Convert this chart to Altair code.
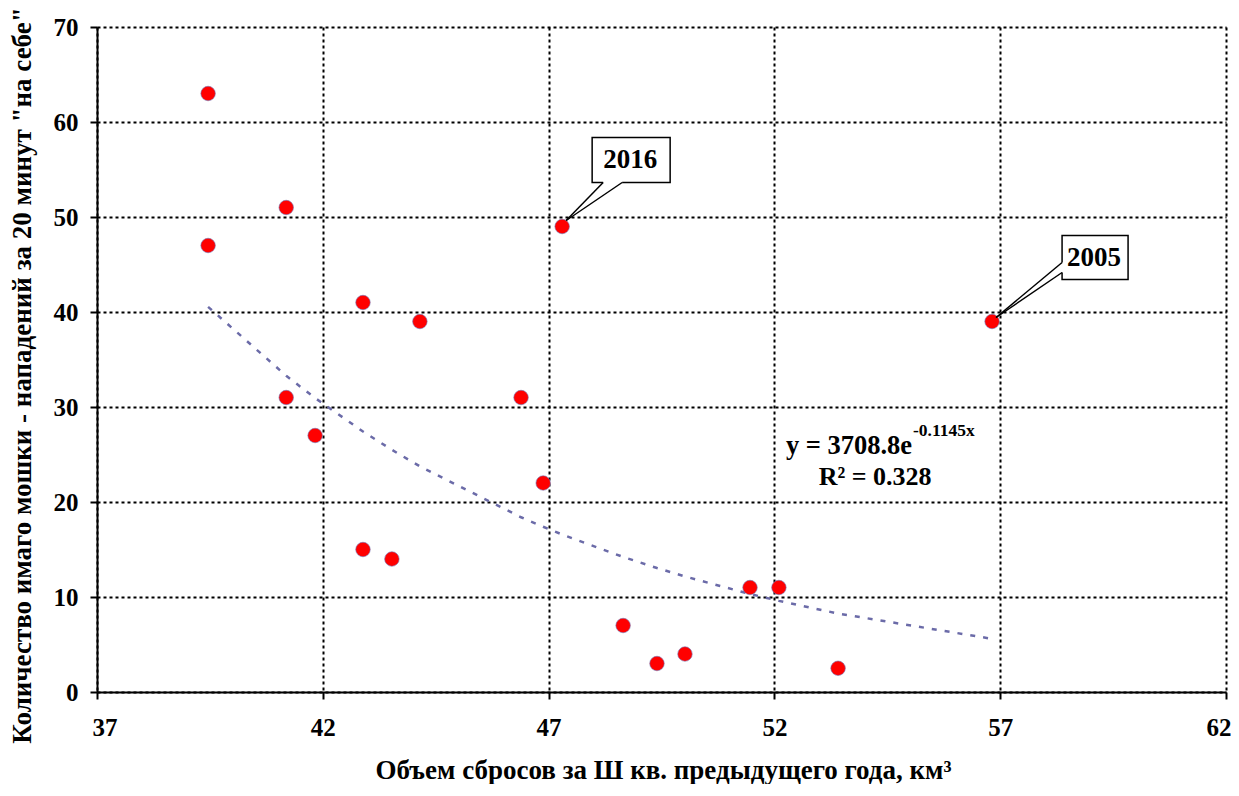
import altair as alt
import pandas as pd

# ---- data ----
x_vals = [39.46, 39.46, 41.19, 41.19, 41.83, 42.89, 42.89, 43.53, 44.15, 46.39,
          46.88, 47.30, 48.65, 49.40, 50.02, 51.46, 52.10, 53.41, 56.82]
y_vals = [63, 47, 51, 31, 27, 41, 15, 14, 39, 31,
          22, 49, 7, 3, 4, 11, 11, 2.5, 39]
year_labels = ["", "", "", "", "", "", "", "", "", "",
               "", "2016", "", "", "", "", "", "", "2005"]

x_ticks = [37, 42, 47, 52, 57, 62]
y_ticks = [0, 10, 20, 30, 40, 50, 60, 70]

eq_main = "y = 3708.8e"
eq_exp = "-0.1145x"
eq_r2 = "R² = 0.328"

x_title = "Объем сбросов за Ш кв. предыдущего года, км³"
y_title = 'Количество имаго мошки - нападений за 20 минут "на себе"'

FONT = "Liberation Serif"

df = pd.DataFrame({"x": x_vals, "y": y_vals, "year": year_labels})
one = pd.DataFrame({"k": [0]})

xscale = alt.Scale(domain=[37, 62], nice=False, zero=False)
yscale = alt.Scale(domain=[0, 70], nice=False, zero=True)

xaxis = alt.Axis(values=x_ticks, title=x_title, grid=True, format="d",
                 titleX=566, titleY=86, titleAlign="center", titleBaseline="alphabetic",
                 titleAnchor="middle", labelPadding=16,
                 labelFlush=True, labelFlushOffset=5)
yaxis = alt.Axis(values=y_ticks, title=y_title, grid=True, format="d",
                 titleX=-75, titleY=348, titleAlign="center", titleBaseline="middle",
                 titleAngle=270, labelPadding=12)

base = alt.Chart(df)

points = base.mark_point(filled=True, shape="circle", size=210, color="#FF0000",
                         stroke="#7070B0", strokeWidth=0.6, opacity=1).encode(
    x=alt.X("x:Q", scale=xscale, axis=xaxis),
    y=alt.Y("y:Q", scale=yscale, axis=yaxis),
)

# exponential trend (least squares on log(y)), computed from the data
trend = base.transform_calculate(
    ly="log(datum.y)", xly="datum.x*log(datum.y)", xx="datum.x*datum.x"
).transform_joinaggregate(
    mx="mean(x)", mly="mean(ly)", mxly="mean(xly)", mxx="mean(xx)"
).transform_calculate(
    b="(datum.mxly - datum.mx*datum.mly)/(datum.mxx - datum.mx*datum.mx)"
).transform_calculate(
    a="datum.mly - datum.b*datum.mx"
).transform_calculate(
    fit="exp(datum.a + datum.b*datum.x)"
).mark_line(color="#6B6BA8", strokeWidth=2.5, strokeDash=[5, 8]).encode(
    x=alt.X("x:Q", scale=xscale),
    y=alt.Y("fit:Q", scale=yscale),
    order="x:Q",
)


def callout(year, box, base_pts, tip, text_pos):
    d = base.transform_filter(alt.datum.year == year)
    enc = dict(x=alt.X("x:Q", scale=xscale), y=alt.Y("y:Q", scale=yscale))
    enc2 = dict(x2="x:Q", y2="y:Q")
    rect = d.mark_rect(fill="white", stroke="black", strokeWidth=1.5,
                       xOffset=box[0], x2Offset=box[1], yOffset=box[2], y2Offset=box[3]
                       ).encode(**enc, **enc2)
    cover = d.mark_rule(color="white", strokeWidth=3,
                        xOffset=base_pts[0][0], yOffset=base_pts[0][1],
                        x2Offset=base_pts[1][0], y2Offset=base_pts[1][1]
                        ).encode(**enc, **enc2)
    l1 = d.mark_rule(color="black", strokeWidth=1.5,
                     xOffset=tip[0], yOffset=tip[1],
                     x2Offset=base_pts[0][0], y2Offset=base_pts[0][1]
                     ).encode(**enc, **enc2)
    l2 = d.mark_rule(color="black", strokeWidth=1.5,
                     xOffset=tip[0], yOffset=tip[1],
                     x2Offset=base_pts[1][0], y2Offset=base_pts[1][1]
                     ).encode(**enc, **enc2)
    txt = d.mark_text(font=FONT, fontWeight="bold", fontSize=27, color="black",
                      align="center", baseline="alphabetic",
                      dx=text_pos[0], dy=text_pos[1]).encode(**enc, text="year:N")
    return [rect, cover, l1, l2, txt]


c2016 = callout("2016", (30, 108, -89, -44), [(41, -44), (60, -44)], (4, -6), (68, -59))
c2005 = callout("2005", (70, 136, -86, -42), [(70, -59), (70, -49)], (4, -4), (102, -56))

eq1 = alt.Chart(one).mark_text(font=FONT, fontWeight="bold", fontSize=26.5, color="black",
                               align="right", baseline="alphabetic").encode(
    x=alt.datum(55.05, scale=xscale), y=alt.datum(25.05, scale=yscale), text=alt.value(eq_main))
eq2 = alt.Chart(one).mark_text(font=FONT, fontWeight="bold", fontSize=17.5, color="black",
                               align="left", baseline="alphabetic").encode(
    x=alt.datum(55.07, scale=xscale), y=alt.datum(27.0, scale=yscale), text=alt.value(eq_exp))
eq3 = alt.Chart(one).mark_text(font=FONT, fontWeight="bold", fontSize=26, color="black",
                               align="center", baseline="alphabetic").encode(
    x=alt.datum(54.23, scale=xscale), y=alt.datum(21.79, scale=yscale), text=alt.value(eq_r2))

chart = alt.layer(
    trend, points, *c2016, *c2005, eq1, eq2, eq3
).properties(
    width=1129, height=665,
    autosize=alt.AutoSizeParams(type="none"),
    padding={"left": 89, "top": 19, "right": 5, "bottom": 92},
    background="white",
).configure_view(stroke=None).configure_axis(
    labelFont=FONT, labelFontSize=25, labelFontWeight="bold", labelColor="black",
    titleFont=FONT, titleFontSize=27, titleFontWeight="bold", titleColor="black",
    domainColor="black", domainWidth=2, tickColor="black", tickWidth=2, tickSize=7,
    gridColor="black", gridWidth=2, gridDash=[3, 3], gridOpacity=1,
)

chart.save("out.html", embed_options={"renderer": "svg", "actions": False})
